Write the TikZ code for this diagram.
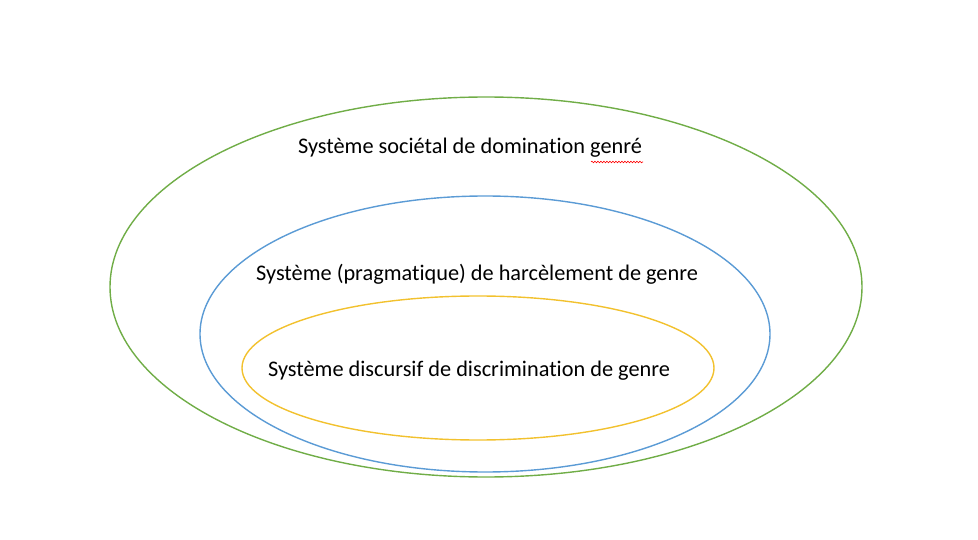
\documentclass[tikz,border=0pt]{standalone}
\usepackage{fontspec}
\setmainfont{Carlito}[Ligatures=NoCommon]
\usetikzlibrary{decorations.pathmorphing}
\definecolor{greenline}{HTML}{70AD47}
\definecolor{blueline}{HTML}{5B9BD5}
\definecolor{yellowline}{HTML}{F2C12E}
\begin{document}
\begin{tikzpicture}[x=1pt, y=-1pt, line width=1.4pt,
    label/.style={font=\fontsize{22.3}{26}\selectfont, anchor=base, inner sep=0pt}]
        \useasboundingbox (0,0) rectangle (978,540);
        \draw[greenline]  (486,287) ellipse [x radius=376, y radius=190];
        \draw[blueline]   (485,334) ellipse [x radius=285, y radius=138];
        \draw[yellowline] (478,368) ellipse [x radius=236, y radius=72];

        \node[label] (societal) at (470,154) {Système sociétal de domination genré};
        \node[label] (pragma) at (477,281) {Système (pragmatique) de harcèlement de genre};
        \node[label] (discours) at (469,376) {Système discursif de discrimination de genre};

        \draw[red, line width=0.6pt, decorate,
              decoration={snake, amplitude=0.8pt, segment length=3pt}]
              (591,162) -- (643,162);
        \end{tikzpicture}
\end{document}
